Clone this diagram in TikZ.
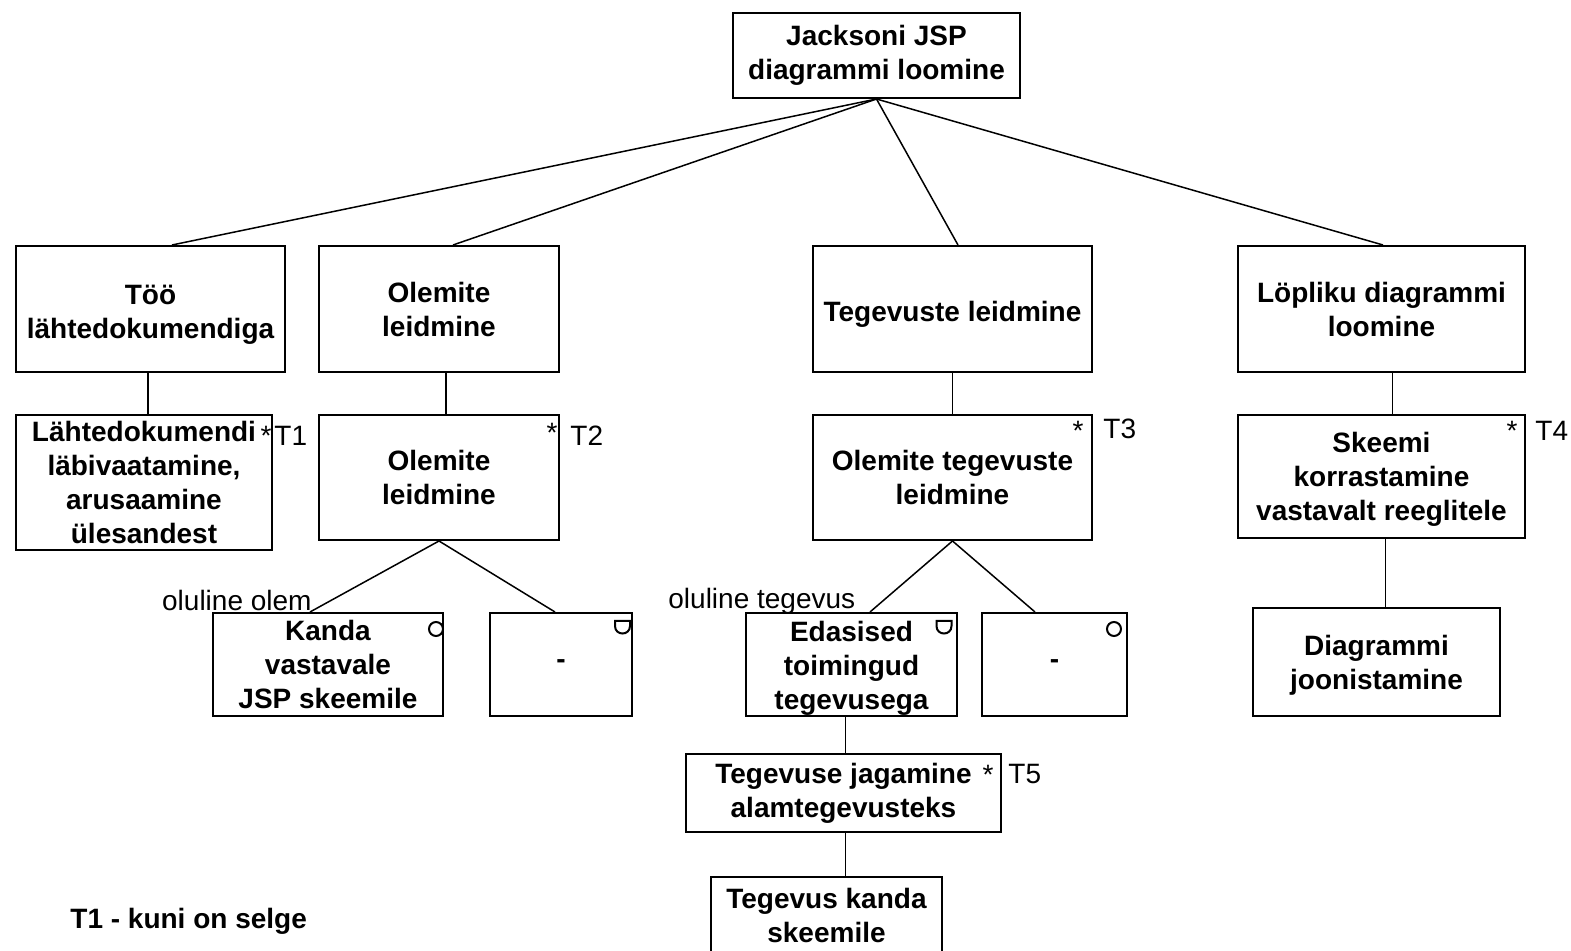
\documentclass[tikz,border=0pt]{standalone}
\usepackage{fontspec}
\setmainfont{Liberation Sans}
\begin{document}
\begin{tikzpicture}[x=0.5pt,y=-0.5pt,
  box/.style={draw, line width=1pt, align=center, inner sep=0pt,
    font=\bfseries\fontsize{14}{17}\selectfont},
  txt/.style={align=center, inner sep=0pt, font=\bfseries\fontsize{14}{17}\selectfont},
  lbl/.style={inner sep=0pt, font=\fontsize{14}{17}\selectfont},
  conn/.style={line width=0.75pt},
  sym/.style={line width=1pt}]
\path[use as bounding box, fill=white] (0,0) rectangle (1571,951);
\clip (0,0) rectangle (1571,951);

% nodes
\node[box, minimum width=143.5pt, minimum height=42.5pt] (top) at (876.5,55.5) {Jacksoni JSP\\diagrammi loomine};

\node[box, minimum width=134.5pt, minimum height=63pt,
  label={[txt,yshift=-2.75pt]center:Töö\\lähtedokumendiga}] (A) at (150.5,309) {};
\node[box, minimum width=120pt, minimum height=63pt] (B) at (439,309) {Olemite\\leidmine};
\node[box, minimum width=139.5pt, minimum height=63pt,
  label={[txt,yshift=-2.5pt]center:Tegevuste leidmine}] (C) at (952.5,309) {};
\node[box, minimum width=143.5pt, minimum height=63pt] (D) at (1381.5,309) {Löpliku diagrammi\\loomine};

\node[box, minimum width=128pt, minimum height=67.5pt] (A2) at (144,482.5) {Lähtedokumendi\\läbivaatamine,\\arusaamine\\ülesandest};
\node[box, minimum width=120pt, minimum height=62.5pt] (B2) at (439,477.5) {Olemite\\leidmine};
\node[box, minimum width=139.5pt, minimum height=62.5pt] (C2) at (952.5,477.5) {Olemite tegevuste\\leidmine};
\node[box, minimum width=143.5pt, minimum height=61.5pt,
  label={[txt,yshift=-1.5pt]center:Skeemi\\korrastamine\\vastavalt reeglitele}] (D2) at (1381.5,476.5) {};

\node[box, minimum width=115pt, minimum height=51.5pt] (B3a) at (328,664.5) {Kanda\\vastavale\\JSP skeemile};
\node[box, minimum width=71pt, minimum height=51.5pt] (B3b) at (561,664.5) {-};
\node[box, minimum width=105.5pt, minimum height=51.5pt,
  label={[txt,yshift=-2pt]center:Edasised\\toimingud\\tegevusega}] (C3a) at (851.5,664.5) {};
\node[box, minimum width=72.5pt, minimum height=51.5pt] (C3b) at (1054.5,664.5) {-};
\node[box, minimum width=123.5pt, minimum height=54pt,
  label={[txt,yshift=-1.5pt]center:Diagrammi\\joonistamine}] (D3) at (1376.5,662) {};

\node[box, minimum width=157.5pt, minimum height=39pt] (T5box) at (843.5,793) {Tegevuse jagamine\\alamtegevusteks};
\node[box, minimum width=115.5pt, minimum height=48pt,
  label={[txt,yshift=5pt]center:Tegevus kanda\\skeemile}] (L5) at (826.5,925) {};

% iteration marks and labels
\node[lbl, anchor=base] (s1) at (266,446) {*};
\node[lbl, anchor=base west] (t1) at (274,446) {T1};
\node[lbl, anchor=base] (s2) at (552,443) {*};
\node[lbl, anchor=base west] (t2) at (570,446) {T2};
\node[lbl, anchor=base] (s3) at (1078,441) {*};
\node[lbl, anchor=base west] (t3) at (1103,439) {T3};
\node[lbl, anchor=base] (s4) at (1512,441) {*};
\node[lbl, anchor=base west] (t4) at (1535,441) {T4};
\node[lbl, anchor=base] (s5) at (988,785) {*};
\node[lbl, anchor=base west] (t5) at (1008,784) {T5};

\node[lbl, anchor=base east] (olem) at (312,611) {oluline olem};
\node[lbl, anchor=base west] (teg) at (668,609) {oluline tegevus};

\node[txt, anchor=base west] (leg1) at (70,929) {T1 - kuni on selge};

% selection marks
\draw[sym] ([shift={(-8,17)}]B3a.north east) circle[radius=3.5pt];
\draw[sym] ([shift={(-14,17)}]C3b.north east) circle[radius=3.5pt];
\draw[sym] ([shift={(-18,9)}]B3b.north east) -- ++(7.5pt,0pt) -- ++(0pt,-2.5pt)
  .. controls +(0pt,-5pt) and +(0pt,-5pt) .. ++(-7.5pt,0pt) -- cycle;
\draw[sym] ([shift={(-21.5,9)}]C3a.north east) -- ++(7.5pt,0pt) -- ++(0pt,-2.5pt)
  .. controls +(0pt,-5pt) and +(0pt,-5pt) .. ++(-7.5pt,0pt) -- cycle;

% connectors
\draw[conn] (top.south) -- ([xshift=10.75pt]A.north);
\draw[conn] (top.south) -- ([xshift=7pt]B.north);
\draw[conn] (top.south) -- ([xshift=2.75pt]C.north);
\draw[conn] (top.south) -- ([xshift=0.75pt]D.north);

\draw[conn] ([xshift=-1.25pt]A.south) -- ([xshift=-1.25pt]A.south |- A2.north);
\draw[conn] ([xshift=3.5pt]B.south) -- ([xshift=3.5pt]B.south |- B2.north);
\draw[conn] (C.south) -- (C.south |- C2.north);
\draw[conn] ([xshift=5.5pt]D.south) -- ([xshift=5.5pt]D.south |- D2.north);

\draw[conn] (B2.south) -- ([xshift=-9pt]B3a.north);
\draw[conn] (B2.south) -- ([xshift=-3pt]B3b.north);
\draw[conn] (C2.south) -- ([xshift=9.25pt]C3a.north);
\draw[conn] (C2.south) -- ([xshift=-9.75pt]C3b.north);

\draw[conn] ([xshift=1pt]T5box.north) -- ([xshift=1pt]T5box.north |- C3a.south);
\draw[conn] ([xshift=1pt]T5box.south) -- ([xshift=1pt]T5box.south |- L5.north);
\draw[conn] ([xshift=2pt]D2.south) -- ([xshift=2pt]D2.south |- D3.north);
\end{tikzpicture}
\end{document}
